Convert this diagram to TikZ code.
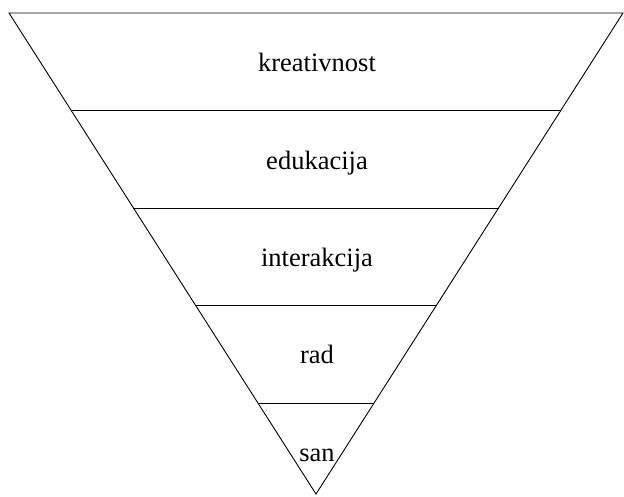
\documentclass[tikz,border=0pt]{standalone}
\usepackage{fontspec}
\setmainfont{Liberation Serif}
\usetikzlibrary{calc}
\begin{document}
\begin{tikzpicture}[x=1pt,y=-1pt,line width=0.9pt,
  lbl/.style={font=\fontsize{26.5}{30}\selectfont,inner sep=0pt,anchor=base}]
\useasboundingbox (0,0) rectangle (624,497);
\coordinate (L) at (9,13);
\coordinate (R) at (623,13);
\coordinate (A) at (316,494);
\draw (L) -- (R) -- (A) -- cycle;
\foreach \y [count=\i] in {110,208,305,403}{
  \pgfmathsetmacro\t{(\y-13)/481}
  \coordinate (l\i) at ($(L)!\t!(A)$);
  \coordinate (r\i) at ($(R)!\t!(A)$);
  \draw (l\i) -- (r\i);
}
\node[lbl] (k) at (317,72) {kreativnost};
\node[lbl] (e) at (317,170) {edukacija};
\node[lbl] (i) at (317,267) {interakcija};
\node[lbl] (r) at (317,363) {rad};
\node[lbl] (s) at (317,461) {san};
\end{tikzpicture}
\end{document}
